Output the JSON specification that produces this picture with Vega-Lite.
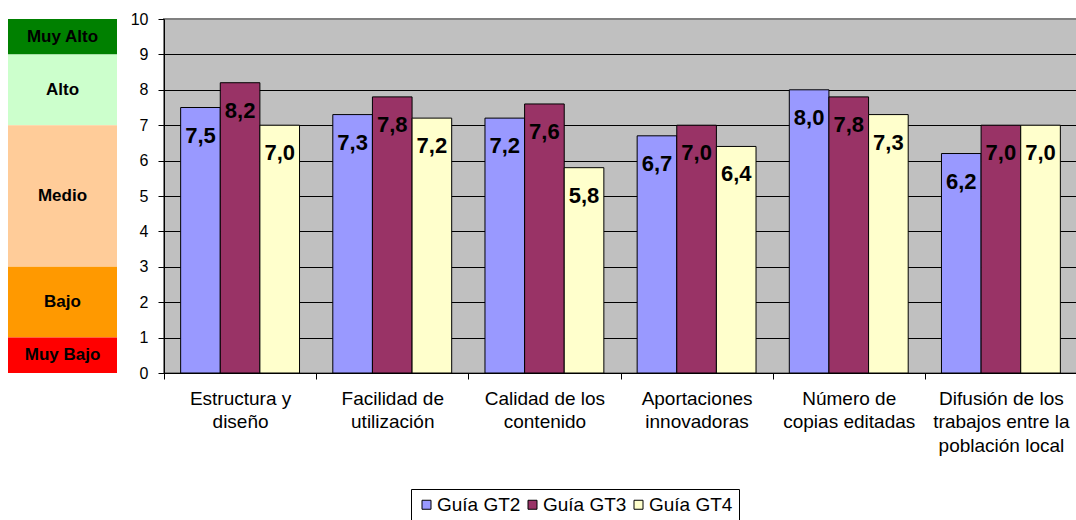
{
  "$schema": "https://vega.github.io/schema/vega-lite/v6.json",
  "padding": {"left": 8, "top": 10, "right": 0, "bottom": 0},
  "background": "white",
  "config": {
    "font": "Liberation Sans",
    "locale": {"number": {"decimal": ",", "thousands": ".", "grouping": [3], "currency": ["", " €"]}},
    "concat": {"spacing": 12},
    "axis": {"labelColor": "black", "domainColor": "black", "tickColor": "black", "titleColor": "black"}
  },
  "resolve": {"scale": {"color": "independent", "y": "independent"}, "legend": {"color": "independent"}},
  "datasets": {
    "bands": [
      {"nivel": "Muy Alto", "desde": 9, "hasta": 10},
      {"nivel": "Alto", "desde": 7, "hasta": 9},
      {"nivel": "Medio", "desde": 3, "hasta": 7},
      {"nivel": "Bajo", "desde": 1, "hasta": 3},
      {"nivel": "Muy Bajo", "desde": 0, "hasta": 1}
    ],
    "scores": [
      {"criterio": "Estructura y\ndiseño", "guia": "Guía GT2", "nota": 7.5},
      {"criterio": "Estructura y\ndiseño", "guia": "Guía GT3", "nota": 8.2},
      {"criterio": "Estructura y\ndiseño", "guia": "Guía GT4", "nota": 7.0},
      {"criterio": "Facilidad de\nutilización", "guia": "Guía GT2", "nota": 7.3},
      {"criterio": "Facilidad de\nutilización", "guia": "Guía GT3", "nota": 7.8},
      {"criterio": "Facilidad de\nutilización", "guia": "Guía GT4", "nota": 7.2},
      {"criterio": "Calidad de los\ncontenido", "guia": "Guía GT2", "nota": 7.2},
      {"criterio": "Calidad de los\ncontenido", "guia": "Guía GT3", "nota": 7.6},
      {"criterio": "Calidad de los\ncontenido", "guia": "Guía GT4", "nota": 5.8},
      {"criterio": "Aportaciones\ninnovadoras", "guia": "Guía GT2", "nota": 6.7},
      {"criterio": "Aportaciones\ninnovadoras", "guia": "Guía GT3", "nota": 7.0},
      {"criterio": "Aportaciones\ninnovadoras", "guia": "Guía GT4", "nota": 6.4},
      {"criterio": "Número de\ncopias editadas", "guia": "Guía GT2", "nota": 8.0},
      {"criterio": "Número de\ncopias editadas", "guia": "Guía GT3", "nota": 7.8},
      {"criterio": "Número de\ncopias editadas", "guia": "Guía GT4", "nota": 7.3},
      {"criterio": "Difusión de los\ntrabajos entre la\npoblación local", "guia": "Guía GT2", "nota": 6.2},
      {"criterio": "Difusión de los\ntrabajos entre la\npoblación local", "guia": "Guía GT3", "nota": 7.0},
      {"criterio": "Difusión de los\ntrabajos entre la\npoblación local", "guia": "Guía GT4", "nota": 7.0}
    ]
  },
  "hconcat": [
    {
      "width": 109,
      "height": 354,
      "view": {"stroke": null},
      "data": {"name": "bands"},
      "layer": [
        {
          "mark": {"type": "rect"},
          "encoding": {
            "y": {"field": "desde", "type": "quantitative", "scale": {"domain": [0, 10], "nice": false}, "axis": null},
            "y2": {"field": "hasta"},
            "color": {
              "field": "nivel",
              "type": "nominal",
              "scale": {
                "domain": ["Muy Alto", "Alto", "Medio", "Bajo", "Muy Bajo"],
                "range": ["#008000", "#CCFFCC", "#FFCC99", "#FF9900", "#FF0000"]
              },
              "legend": null
            }
          }
        },
        {
          "transform": [{"fold": ["desde", "hasta"]}],
          "mark": {"type": "text", "fontWeight": "bold", "fontSize": 17, "color": "black", "baseline": "middle"},
          "encoding": {
            "y": {"aggregate": "mean", "field": "value", "type": "quantitative"},
            "text": {"field": "nivel", "type": "nominal"}
          }
        }
      ]
    },
    {
      "width": 913,
      "height": 354,
      "view": {"fill": "#C0C0C0", "stroke": "#808080", "strokeWidth": 2},
      "data": {"name": "scores"},
      "encoding": {
        "x": {
          "field": "criterio",
          "type": "nominal",
          "sort": null,
          "scale": {"paddingInner": 0, "paddingOuter": 0},
          "axis": {
            "title": null,
            "labelAngle": 0,
            "tickBand": "extent",
            "tickSize": 6,
            "labelPadding": 10,
            "labelFontSize": 19,
            "labelLineHeight": 23.5,
            "labelLimit": 300,
            "labelExpr": "split(datum.label, '\\n')",
            "grid": false
          }
        },
        "xOffset": {"field": "guia", "type": "nominal", "scale": {"paddingInner": 0, "paddingOuter": 0.42}},
        "y": {
          "field": "nota",
          "type": "quantitative",
          "scale": {"domain": [0, 10], "nice": false},
          "axis": {
            "title": null,
            "values": [0, 1, 2, 3, 4, 5, 6, 7, 8, 9, 10],
            "grid": true,
            "gridColor": {"condition": {"test": "datum.value === 10", "value": "#808080"}, "value": "black"},
            "gridWidth": 1,
            "tickSize": 6,
            "labelPadding": 10,
            "labelFontSize": 16
          }
        }
      },
      "layer": [
        {
          "mark": {"type": "bar", "stroke": "black", "strokeWidth": 1},
          "encoding": {
            "color": {
              "field": "guia",
              "type": "nominal",
              "scale": {"domain": ["Guía GT2", "Guía GT3", "Guía GT4"], "range": ["#9999FF", "#993366", "#FFFFCC"]},
              "legend": {
                "title": null,
                "orient": "none",
                "legendX": 247,
                "legendY": 470,
                "direction": "horizontal",
                "strokeColor": "black",
                "fillColor": "white",
                "padding": 6,
                "symbolType": "square",
                "symbolSize": 81,
                "symbolStrokeColor": "black",
                "symbolStrokeWidth": 1,
                "labelFontSize": 19,
                "labelOffset": 1,
                "columnPadding": 2,
                "labelColor": "black"
              }
            }
          }
        },
        {
          "mark": {"type": "text", "fontWeight": "bold", "fontSize": 22, "dy": 28, "baseline": "middle", "color": "black"},
          "encoding": {
            "text": {"field": "nota", "type": "quantitative", "format": ".1f"}
          }
        }
      ]
    }
  ]
}
